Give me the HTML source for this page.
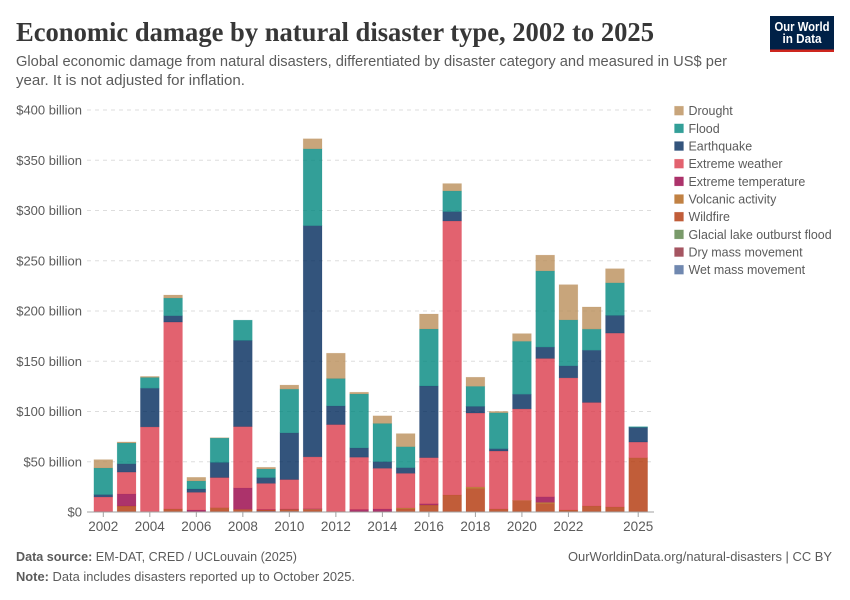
<!DOCTYPE html>
<html lang="en">
<head>
<meta charset="utf-8">
<title>Economic damage by natural disaster type, 2002 to 2025</title>
<style>
html,body{margin:0;padding:0;background:#fff;width:850px;height:600px;overflow:hidden}
svg{display:block;font-family:"Liberation Sans",sans-serif}
text{fill:#5b5b5b}
</style>
</head>
<body>
<svg id="chart" width="850" height="600" viewBox="0 0 850 600" xmlns="http://www.w3.org/2000/svg">
  <text x="16" y="41" font-family="'Liberation Serif',serif" font-weight="700" font-size="27" style="fill:#373737" textLength="638" lengthAdjust="spacingAndGlyphs">Economic damage by natural disaster type, 2002 to 2025</text>
  <text x="16" y="66" font-size="14.5" textLength="711" lengthAdjust="spacingAndGlyphs">Global economic damage from natural disasters, differentiated by disaster category and measured in US$ per</text>
  <text x="16" y="85" font-size="14.5" textLength="229" lengthAdjust="spacingAndGlyphs">year. It is not adjusted for inflation.</text>

  <g>
    <rect x="770" y="16" width="64" height="36" fill="#002147"/>
    <rect x="770" y="49.5" width="64" height="2.5" fill="#ce261e"/>
    <text x="802" y="31" font-size="12.5" font-weight="700" text-anchor="middle" style="fill:#fff" textLength="55" lengthAdjust="spacingAndGlyphs">Our World</text>
    <text x="802" y="43" font-size="12.5" font-weight="700" text-anchor="middle" style="fill:#fff" textLength="39" lengthAdjust="spacingAndGlyphs">in Data</text>
  </g>

  <g id="grid"></g>
  <g id="yLabels"></g>
  <g id="bars"></g>
  <g id="xAxis"></g>
  <g id="legend"></g>

  <text x="16" y="561" font-size="13" textLength="281" lengthAdjust="spacingAndGlyphs"><tspan font-weight="700">Data source:</tspan> EM-DAT, CRED / UCLouvain (2025)</text>
  <text x="568" y="561" font-size="13" textLength="264" lengthAdjust="spacingAndGlyphs">OurWorldinData.org/natural-disasters | CC BY</text>
  <text x="16" y="581" font-size="13" textLength="339" lengthAdjust="spacingAndGlyphs"><tspan font-weight="700">Note:</tspan> Data includes disasters reported up to October 2025.</text>
</svg>

<script>
const years = [2002,2003,2004,2005,2006,2007,2008,2009,2010,2011,2012,2013,2014,2015,2016,2017,2018,2019,2020,2021,2022,2023,2024,2025];
const wetMass    = [0.5,0,0,0,0,0,0,0.7,0.7,0,0,0,0,0,0,0,0.3,0,0,0,0,0,0,0];
const dryMass    = [0,0,0,0,0,0,0,0.3,0,0,0,0,0,0,0,0,0,0,0,0,0,0,0,0];
const glacial    = [0,0,0,0,0,0,0,0,0,0,0,0,0,0,0,0,0,0,0,0,0,0,0,0];
const wildfire   = [0,6,0,3,0,4.3,2.7,1,2,2.3,0.7,0.3,0.5,3,7,17,23,3,11.3,8.3,2,6,5,54];
const volcanic   = [0,0,0,0,0,0,0,0,0,0.5,0,0.2,0,1,0,0,1.6,0,0.3,1.3,0,0,0,0];
const extremeTemp= [0,12,0,0,2,0,21.3,0.5,0.3,0.5,0,2,2.5,0,1.3,0,0,0,0,5.6,0,0,0,0];
const extremeWeather=[14.5,21.7,84.7,186,17.6,30,61,26,29.3,51.6,86.3,52,40.5,34.5,45.8,272.6,73.6,57.7,91,137.6,131.5,103,173,15.6];
const earthquake = [2.3,8.3,38.5,6.3,3.3,15,85.7,5.7,46.5,230,18.6,9.3,6.6,5.6,71.3,9.3,6.6,2.3,14.6,11.3,12,52,17.6,14.6];
const flood      = [26.5,20.7,10.7,17.6,8,24.3,20.2,8.6,43.5,76.5,27.2,53.7,38,20.9,56.7,20.6,20,35.8,52.7,75.8,45.7,21,32.5,0.7];
const drought    = [8.3,1,1,3,3.6,0.3,0,1.7,4,10,25.2,1.7,7.6,13,14.9,7.3,9,1.3,7.6,15.7,35,22,14,0];

const seriesNames = ["Wet mass movement","Dry mass movement","Glacial lake outburst flood","Wildfire","Volcanic activity","Extreme temperature","Extreme weather","Earthquake","Flood","Drought"];
const seriesValues = [wetMass,dryMass,glacial,wildfire,volcanic,extremeTemp,extremeWeather,earthquake,flood,drought];
const seriesColors = ["#4C6A9C","#8E2A39","#578145","#B13507","#B16214","#970046","#DB3B4B","#00295B","#00877E","#BA8E5A"];
const legendOrder = ["Drought","Flood","Earthquake","Extreme weather","Extreme temperature","Volcanic activity","Wildfire","Glacial lake outburst flood","Dry mass movement","Wet mass movement"];
const yTicks = [0,50,100,150,200,250,300,350,400];
const yTickLabels = ["$0","$50 billion","$100 billion","$150 billion","$200 billion","$250 billion","$300 billion","$350 billion","$400 billion"];
const xTickYears = [2002,2004,2006,2008,2010,2012,2014,2016,2018,2020,2022,2025];

const NS = "http://www.w3.org/2000/svg";
const yScale = v => 512 - v * (402 / 400);
const xScale = yr => 103.3 + (yr - 2002) * (534.9 / 23);
const barWidth = 18.8;
const slug = s => s.toLowerCase().replace(/\s+/g, '-');

const grid = document.getElementById('grid');
const yLabels = document.getElementById('yLabels');
yTicks.forEach((t, i) => {
  if (t > 0) {
    const line = document.createElementNS(NS, 'line');
    
    
    line.setAttribute('x1', 87);
    line.setAttribute('x2', 654);
    line.setAttribute('y1', yScale(t));
    line.setAttribute('y2', yScale(t));
    line.setAttribute('stroke', '#dddddd');
    line.setAttribute('stroke-dasharray', '4 4');
    grid.appendChild(line);
  }
  const label = document.createElementNS(NS, 'text');
  
  
  label.setAttribute('x', 82);
  label.setAttribute('y', yScale(t) + 4.6);
  label.setAttribute('text-anchor', 'end');
  label.setAttribute('font-size', '13');
  label.textContent = yTickLabels[i];
  yLabels.appendChild(label);
});

const bars = document.getElementById('bars');
years.forEach((yr, i) => {
  let base = 0;
  seriesValues.forEach((vals, s) => {
    const v = vals[i];
    if (!v) return;
    const rect = document.createElementNS(NS, 'rect');
    
    
    rect.setAttribute('x', xScale(yr) - barWidth / 2);
    rect.setAttribute('y', yScale(base + v));
    rect.setAttribute('width', barWidth);
    rect.setAttribute('height', yScale(base) - yScale(base + v));
    rect.setAttribute('fill', seriesColors[s]);
    rect.setAttribute('fill-opacity', '0.8');
    rect.setAttribute('stroke', seriesColors[s]);
    rect.setAttribute('stroke-opacity', '0.25');
    rect.setAttribute('stroke-width', '0.6');
    bars.appendChild(rect);
    base += v;
  });
});

const xAxis = document.getElementById('xAxis');
const axisLine = document.createElementNS(NS, 'line');


axisLine.setAttribute('x1', 87);
axisLine.setAttribute('x2', 654);
axisLine.setAttribute('y1', 512);
axisLine.setAttribute('y2', 512);
axisLine.setAttribute('stroke', '#a1a1a1');
xAxis.appendChild(axisLine);
xTickYears.forEach(yr => {
  const tick = document.createElementNS(NS, 'line');
  
  
  tick.setAttribute('x1', xScale(yr));
  tick.setAttribute('x2', xScale(yr));
  tick.setAttribute('y1', 512);
  tick.setAttribute('y2', 517);
  tick.setAttribute('stroke', '#a1a1a1');
  xAxis.appendChild(tick);
  const label = document.createElementNS(NS, 'text');
  
  
  label.setAttribute('x', xScale(yr));
  label.setAttribute('y', 531);
  label.setAttribute('text-anchor', 'middle');
  label.setAttribute('font-size', '13.5');
  label.textContent = yr;
  xAxis.appendChild(label);
});

const legend = document.getElementById('legend');
legendOrder.forEach((name, i) => {
  const s = seriesNames.indexOf(name);
  const y = 110.7 + i * 17.67;
  const swatch = document.createElementNS(NS, 'rect');
  
  
  swatch.setAttribute('x', 674.5);
  swatch.setAttribute('y', y - 4.5);
  swatch.setAttribute('width', 9);
  swatch.setAttribute('height', 9);
  swatch.setAttribute('fill', seriesColors[s]);
  swatch.setAttribute('fill-opacity', '0.8');
  swatch.setAttribute('stroke', seriesColors[s]);
  swatch.setAttribute('stroke-opacity', '0.25');
  swatch.setAttribute('stroke-width', '0.6');
  legend.appendChild(swatch);
  const label = document.createElementNS(NS, 'text');
  
  
  label.setAttribute('x', 688.5);
  label.setAttribute('y', y + 4.5);
  label.setAttribute('font-size', '12.45');
  label.textContent = name;
  legend.appendChild(label);
});
</script>
</body>
</html>
